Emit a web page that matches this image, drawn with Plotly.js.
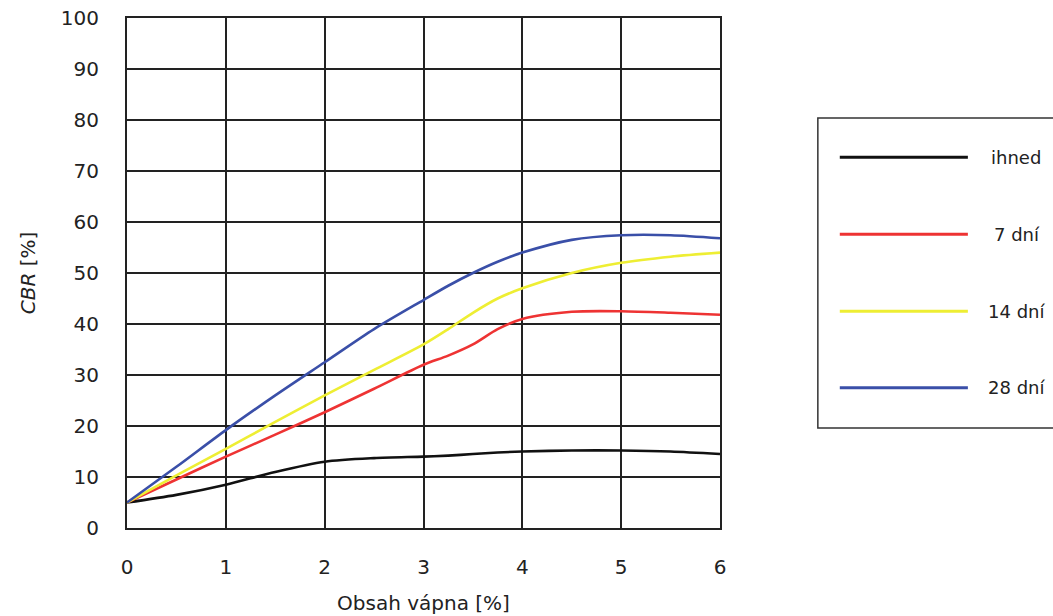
<!DOCTYPE html>
<html>
<head>
<meta charset="utf-8">
<script src="https://cdn.plot.ly/plotly-3.0.1.min.js"></script>
<style>html,body{margin:0;padding:0;background:#fff;}#chart{width:1053px;height:616px;}</style>
</head>
<body>
<div id="chart"></div>
<script>
const lime = [0, 0.5, 1, 1.5, 2, 2.5, 3, 3.25, 3.5, 3.75, 4, 4.5, 5, 5.5, 6];
const ihned = [5, 6.5, 8.5, 11, 13, 13.7, 14, 14.2, 14.5, 14.8, 15, 15.2, 15.2, 15, 14.5];
const dni7  = [5, 9.5, 14, 18.3, 22.7, 27.3, 32, 33.8, 36, 39, 41, 42.4, 42.5, 42.2, 41.8];
const dni14 = [5, 10.3, 15.5, 20.8, 26, 31, 36, 39, 42.2, 45, 47, 50, 52, 53.2, 54];
const dni28 = [5, 12, 19.2, 26, 32.5, 39, 44.7, 47.5, 50, 52.2, 54, 56.5, 57.4, 57.4, 56.8];
const seriesNames = ['ihned', '7 dní', '14 dní', '28 dní'];
const seriesColors = ['#111111', '#ee3333', '#eeee33', '#3a4fa8'];
const seriesData = [ihned, dni7, dni14, dni28];

const FONT = 'DejaVu Sans, Liberation Sans, Arial, sans-serif';

const traces = seriesData.map((d, i) => ({
  x: lime, y: d, type: 'scatter', mode: 'lines', name: seriesNames[i],
  line: {color: seriesColors[i], width: 2.6, shape: 'spline', smoothing: 0.8},
  showlegend: false
}));

// manual legend
const shapes = [{
  type: 'rect', xref: 'paper', yref: 'paper',
  x0: 1.165, x1: 1.6, y0: 0.196, y1: 0.804,
  line: {color: '#333', width: 1.5}, fillcolor: 'rgba(0,0,0,0)'
}];
const annotations = [];
const legY = [0.727, 0.576, 0.425, 0.275];
const legX = [1.454, 1.458, 1.449, 1.449];
seriesNames.forEach((n, i) => {
  shapes.push({type: 'line', xref: 'paper', yref: 'paper',
    x0: 1.202, x1: 1.418, y0: legY[i], y1: legY[i],
    line: {color: seriesColors[i], width: 3}});
  annotations.push({xref: 'paper', yref: 'paper', x: legX[i], y: legY[i],
    text: n, showarrow: false, xanchor: 'left', yanchor: 'middle',
    font: {family: FONT, size: 18, color: '#222'}});
});

const layout = {
  width: 1053, height: 616,
  margin: {l: 127, r: 333, t: 18, b: 88},
  paper_bgcolor: '#fff', plot_bgcolor: '#fff',
  font: {family: FONT, size: 20, color: '#222'},
  xaxis: {
    range: [0, 6], dtick: 1, tick0: 0,
    showgrid: true, gridcolor: '#222', gridwidth: 2,
    showline: true, linecolor: '#222', linewidth: 2, mirror: true,
    zeroline: false, ticks: '', ticklabelstandoff: 20,
    title: {text: 'Obsah vápna [%]', standoff: 18, font: {size: 20}}
  },
  yaxis: {
    range: [0, 100], dtick: 10, tick0: 0,
    showgrid: true, gridcolor: '#222', gridwidth: 2,
    showline: true, linecolor: '#222', linewidth: 2, mirror: true,
    zeroline: false, ticks: '', ticklabelstandoff: 22,
    title: {text: '<i>CBR</i> [%]', standoff: 20, font: {size: 20}}
  },
  shapes: shapes,
  annotations: annotations,
  showlegend: false
};

Plotly.newPlot('chart', traces, layout, {displayModeBar: false, staticPlot: true});
</script>
</body>
</html>
